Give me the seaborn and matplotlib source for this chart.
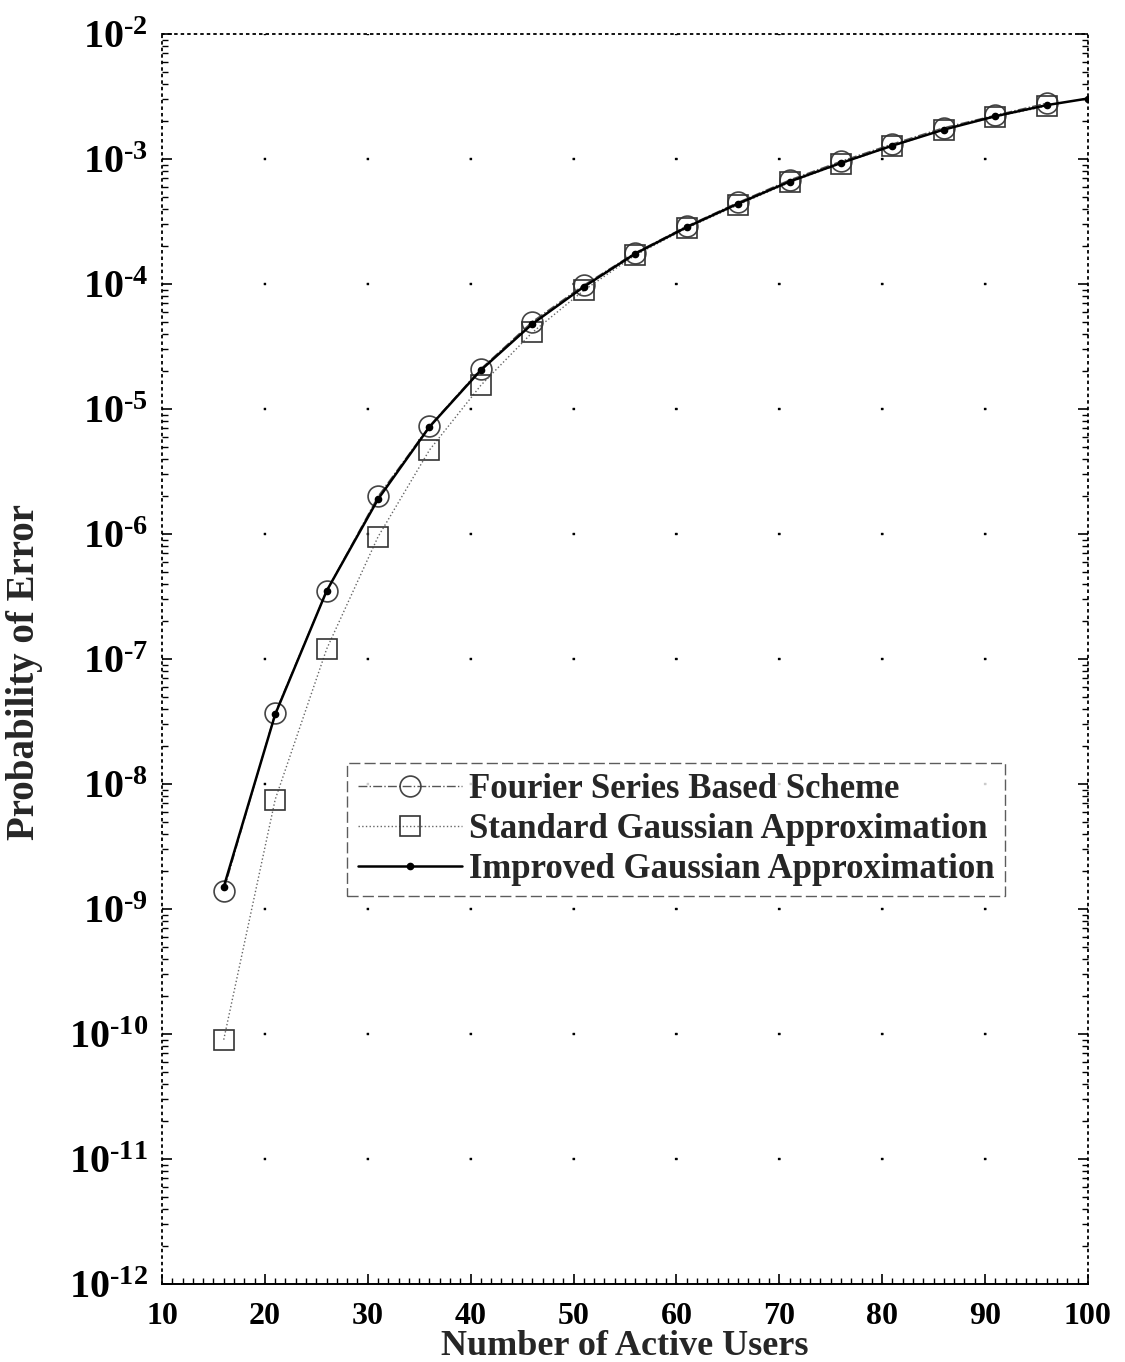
import numpy as np
import pandas as pd
import matplotlib
matplotlib.use("Agg")
import matplotlib.pyplot as plt
from matplotlib.ticker import FixedLocator, FixedFormatter, LogLocator, MultipleLocator, NullFormatter
import seaborn as sns

# Probability of error versus number of active users
users = [16, 21, 26, 31, 36, 41, 46, 51, 56, 61, 66, 71, 76, 81, 86, 91, 96]
users_igA = [16, 21, 26, 31, 36, 41, 46, 51, 56, 61, 66, 71, 76, 81, 86, 91, 96, 100]

pe_fourier = [1.4e-9, 3.7e-8, 3.5e-7, 2.0e-6, 7.3e-6, 2.1e-5, 5.0e-5, 9.8e-5,
              1.78e-4, 2.9e-4, 4.5e-4, 6.8e-4, 9.6e-4, 1.32e-3, 1.78e-3, 2.24e-3, 2.8e-3]
pe_standard = [9.0e-11, 7.5e-9, 1.2e-7, 9.5e-7, 4.7e-6, 1.55e-5, 4.1e-5, 8.9e-5,
               1.7e-4, 2.8e-4, 4.3e-4, 6.5e-4, 9.2e-4, 1.27e-3, 1.72e-3, 2.18e-3, 2.65e-3]
pe_improved = [1.5e-9, 3.6e-8, 3.5e-7, 1.9e-6, 7.2e-6, 2.05e-5, 4.8e-5, 9.5e-5,
               1.75e-4, 2.85e-4, 4.4e-4, 6.6e-4, 9.3e-4, 1.28e-3, 1.72e-3, 2.2e-3, 2.7e-3, 3.05e-3]

series_names = ["Fourier Series Based Scheme",
                "Standard Gaussian Approximation",
                "Improved Gaussian Approximation"]

x_ticks = [10, 20, 30, 40, 50, 60, 70, 80, 90, 100]
y_exponents = list(range(-12, -1))

sns.set_theme(style="white")
plt.rcParams["font.family"] = ["Liberation Serif", "DejaVu Serif"]
plt.rcParams["font.weight"] = "bold"
plt.rcParams["mathtext.fontset"] = "custom"
plt.rcParams["mathtext.rm"] = "Liberation Serif:bold"
plt.rcParams["mathtext.it"] = "Liberation Serif:bold"
plt.rcParams["mathtext.bf"] = "Liberation Serif:bold"
plt.rcParams["lines.scale_dashes"] = False

fig = plt.figure(figsize=(11.25, 13.62), dpi=100)
ax = fig.add_axes([0.144, 0.0573, 0.823, 0.9177])

df_f = pd.DataFrame({"users": users, "pe": pe_fourier})
df_s = pd.DataFrame({"users": users, "pe": pe_standard})
df_i = pd.DataFrame({"users": users_igA, "pe": pe_improved})

sns.lineplot(data=df_f, x="users", y="pe", ax=ax, color="#555555", linewidth=1.0,
             linestyle="-.", marker="o", markersize=15, markerfacecolor="none",
             markeredgecolor="#444444", markeredgewidth=1.2, label=series_names[0])
sns.lineplot(data=df_s, x="users", y="pe", ax=ax, color="#666666", linewidth=1.0,
             linestyle=":", marker="s", markersize=15, markerfacecolor="none",
             markeredgecolor="#333333", markeredgewidth=1.2, label=series_names[1])
sns.lineplot(data=df_i, x="users", y="pe", ax=ax, color="black", linewidth=1.8,
             linestyle="-", marker=".", markersize=9, markerfacecolor="black",
             markeredgecolor="black", markeredgewidth=1.0, label=series_names[2])

ax.set_yscale("log")
ax.set_xlim(10, 100)
ax.set_ylim(1e-12, 1e-2)

# ticks
ax.xaxis.set_major_locator(FixedLocator(x_ticks))
ax.xaxis.set_major_formatter(FixedFormatter([str(v) for v in x_ticks]))
ax.xaxis.set_minor_locator(MultipleLocator(1))
ax.yaxis.set_major_locator(FixedLocator([10.0 ** e for e in y_exponents]))
ax.yaxis.set_major_formatter(
    FixedFormatter(["$10^{\u2010%d}$" % (-e) for e in y_exponents]))
ax.yaxis.set_minor_locator(LogLocator(base=10, subs=np.arange(2, 10), numticks=100))
ax.yaxis.set_minor_formatter(NullFormatter())

ax.tick_params(axis="both", which="both", direction="in", colors="black")
ax.tick_params(axis="x", which="major", length=7, width=1.2, labelsize=23, pad=13,
               top=False, bottom=True)
ax.tick_params(axis="x", which="minor", length=4, width=1.0, top=False, bottom=True)
ax.tick_params(axis="y", which="major", length=7, width=1.2, labelsize=29, pad=10,
               left=True, right=True)
ax.tick_params(axis="y", which="minor", length=4, width=1.0, left=True, right=True)
for lbl in ax.get_xticklabels() + ax.get_yticklabels():
    lbl.set_fontweight("bold")

# sparse dotted grid: dots fall on tick intersections
ax.xaxis.grid(True, which="major", color="black", linewidth=1.6,
              linestyle=(0.8, (1.6, 88.4)))
ax.yaxis.grid(True, which="major", color="black", linewidth=1.6,
              linestyle=(0.8, (1.6, 72.5)))

for side in ["top", "right", "left"]:
    ax.spines[side].set_linestyle((0, (1.2, 3.5)))
    ax.spines[side].set_linewidth(1.3)
    ax.spines[side].set_color("black")
ax.spines["bottom"].set_linewidth(1.4)
ax.spines["bottom"].set_color("black")

ax.set_xlabel("Number of Active Users", fontsize=26, fontweight="bold")
ax.set_ylabel("Probability of Error", fontsize=28, fontweight="bold")
ax.xaxis.set_label_coords(0.5, -0.037)
ax.yaxis.set_label_coords(-0.128, 0.49)

leg = ax.legend(loc="lower left", bbox_to_anchor=(0.2, 0.31),
                prop={"weight": "bold", "size": 25}, handlelength=3.0,
                handletextpad=0.2, borderpad=0.3, labelspacing=0.2,
                frameon=True, fancybox=False, borderaxespad=0)
frame = leg.get_frame()
frame.set_edgecolor("#333333")
frame.set_linestyle((0, (8, 3)))
frame.set_linewidth(1.0)

fig.savefig("out.png", dpi=100, facecolor="white")
